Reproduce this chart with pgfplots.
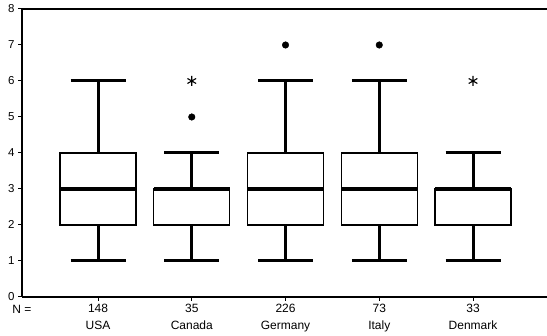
\documentclass[border=0pt]{standalone}
\usepackage{pgfplots}
\pgfplotsset{compat=1.18}
\usepgfplotslibrary{statistics}
\usepackage{fontspec}
\setmainfont{Liberation Sans}
\begin{document}
\begin{tikzpicture}
\begin{axis}[
  scale only axis, width=525pt, height=288pt,
  xmin=0.189, xmax=5.789, ymin=0, ymax=8,
  axis lines*=left,
  axis line style={line width=2pt},
  xtick={1,2,3,4,5},
  xticklabels={148\\USA, 35\\Canada, 226\\Germany, 73\\Italy, 33\\Denmark},
  xticklabel style={align=center, font=\fontsize{12}{17}\selectfont},
  ytick={0,1,...,8},
  yticklabel style={font=\fontsize{11.5}{13}\selectfont},
  tick align=outside, major tick length=4pt,
  tick style={line width=1pt, black},
  /pgf/number format/assume math mode=true,
  clip=false,
  boxplot/draw direction=y,
  boxplot/every box/.style={line width=1.2pt, draw=black, fill=white},
  boxplot/every whisker/.style={line width=3pt, black},
  boxplot/every median/.style={line width=4.2pt, black},
  boxplot/box extend=0.81,
  boxplot/whisker extend=0.587,
]
\addplot[black, boxplot prepared={draw position=1, lower whisker=1, lower quartile=2, median=3, upper quartile=4, upper whisker=6}] coordinates {};
\addplot[black, boxplot prepared={draw position=2, lower whisker=1, lower quartile=2, median=3, upper quartile=3, upper whisker=4}] coordinates {};
\addplot[black, boxplot prepared={draw position=3, lower whisker=1, lower quartile=2, median=3, upper quartile=4, upper whisker=6}] coordinates {};
\addplot[black, boxplot prepared={draw position=4, lower whisker=1, lower quartile=2, median=3, upper quartile=4, upper whisker=6}] coordinates {};
\addplot[black, boxplot prepared={draw position=5, lower whisker=1, lower quartile=2, median=3, upper quartile=3, upper whisker=4}] coordinates {};
\addplot[only marks, mark=*, mark size=3.3pt, black] coordinates {(2,5) (3,7) (4,7)};
\addplot[only marks, mark=asterisk, mark size=5pt, black, line width=1.1pt] coordinates {(2,6) (5,6)};
\draw[line width=1.4pt] (rel axis cs:0,1) -- (rel axis cs:1,1);
\node[anchor=base west, font=\fontsize{12}{14}\selectfont, inner sep=0pt] at (axis cs:0.083,0) [yshift=-16.5pt] {N =};
\end{axis}
\pgfresetboundingbox
\path[use as bounding box] ([shift={(-22pt,-38.5pt)}]current axis.south west) rectangle ([shift={(0pt,9pt)}]current axis.north east);
\end{tikzpicture}
\end{document}
